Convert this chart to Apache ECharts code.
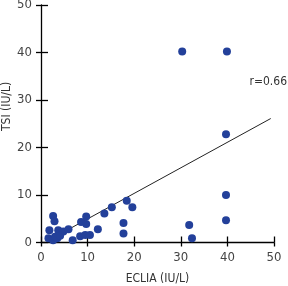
<!DOCTYPE html>
<html><head><meta charset="utf-8">
<script src="https://cdn.jsdelivr.net/npm/echarts@6/dist/echarts.min.js"></script>
<style>html,body{margin:0;padding:0;background:#fff}#c{width:288px;height:286px}</style>
</head><body><div id="c"></div>
<script>
const eclia = [30.3, 39.9, 39.7, 39.7, 39.7, 31.8, 32.4,
  2.6, 2.9, 1.8, 1.6, 2.6, 3.7, 4.2, 3.5, 4.8, 5.9, 6.8, 8.4, 8.6, 9.7, 9.7, 9.5, 10.5, 12.2, 13.6, 15.2, 18.4, 19.6, 17.7, 17.7, 3.0, 4.1];
const tsi = [40.2, 40.2, 22.8, 10.0, 4.7, 3.7, 0.9,
  5.6, 4.5, 2.6, 0.9, 0.5, 2.6, 2.0, 0.9, 2.3, 2.8, 0.5, 1.3, 4.3, 5.5, 3.9, 1.6, 1.6, 2.8, 6.1, 7.4, 8.8, 7.4, 4.1, 1.9, 1.2, 1.4];
const fitLine = [[3.0, 1.2], [49.3, 26.1]];
const xTicks = [0, 10, 20, 30, 40, 50];
const yTicks = [0, 10, 20, 30, 40, 50];
const rLabel = 'r=0.66';

const font = '"DejaVu Sans Condensed", "Roboto", sans-serif';
const chart = echarts.init(document.getElementById('c'));
const axBase = {min: 0, max: 50, interval: 10};
chart.setOption({
  animation: false,
  grid: {left: 41, right: 14, top: 5, bottom: 43.5, outerBoundsMode: 'none', containLabel: false},
  xAxis: [
    Object.assign({type: 'value', name: 'ECLIA (IU/L)', nameLocation: 'middle', nameGap: 30,
      nameTextStyle: {color: '#333', fontSize: 12, fontFamily: font},
      axisLine: {lineStyle: {color: '#000', width: 1.3}},
      axisTick: {show: true, length: 4, lineStyle: {color: '#000', width: 1.3}},
      axisLabel: {color: '#444', fontSize: 13, fontFamily: font, margin: 9},
      splitLine: {show: false}}, axBase),
    Object.assign({type: 'value', position: 'bottom', axisLine: {show: false},
      axisTick: {show: true, inside: true, length: 6, lineStyle: {color: '#000', width: 1.3}},
      axisLabel: {show: false}, splitLine: {show: false}}, axBase)
  ],
  yAxis: [
    Object.assign({type: 'value',
      axisLine: {show: true, lineStyle: {color: '#000', width: 1.3}},
      axisTick: {show: true, length: 5, lineStyle: {color: '#000', width: 1.3}},
      axisLabel: {color: '#444', fontSize: 13, fontFamily: font, margin: 9},
      splitLine: {show: false}}, axBase),
    Object.assign({type: 'value', position: 'left', axisLine: {show: false},
      axisTick: {show: true, inside: true, length: 7, lineStyle: {color: '#000', width: 1.3}},
      axisLabel: {show: false}, splitLine: {show: false}}, axBase)
  ],
  graphic: [
    {type: 'text', rotation: Math.PI / 2, x: 1, y: 131,
      style: {text: 'TSI (IU/L)', fill: '#333', font: '12px ' + font}},
    {type: 'text', right: 1, top: 76,
      style: {text: rLabel, fill: '#333', font: '12px ' + font}}
  ],
  series: [
    {type: 'line', data: fitLine, symbol: 'none', z: 1,
      lineStyle: {color: '#222', width: 1}},
    {type: 'scatter', data: eclia.map((v, i) => [v, tsi[i]]), symbolSize: 8, z: 3,
      itemStyle: {color: '#23409a', opacity: 1}}
  ]
});
</script></body></html>
